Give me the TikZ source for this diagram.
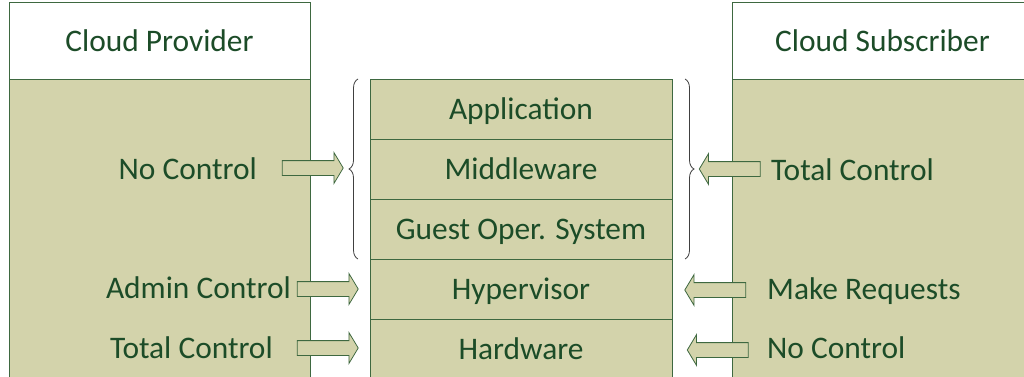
\documentclass[tikz,border=0pt]{standalone}
\usepackage{fontspec}
\setmainfont{Carlito}
\usetikzlibrary{positioning,shapes.arrows,decorations.pathreplacing}

\definecolor{khaki}{RGB}{211,211,171}
\definecolor{leaf}{RGB}{28,76,40}
\definecolor{rim}{RGB}{62,104,64}

\tikzstyle{layer}=[rectangle,draw=rim,line width=1pt,fill=khaki,text=leaf,minimum width=302pt,minimum height=60pt,inner sep=0pt,outer sep=0pt,text height=20pt,text depth=0pt]
\tikzstyle{cabeza}=[rectangle,draw=rim,line width=1pt,fill=white,text=leaf,minimum width=301pt,minimum height=76pt,inner sep=0pt,outer sep=0pt,text height=20pt,text depth=0pt]
\tikzstyle{cuerpo}=[rectangle,draw=rim,line width=1pt,fill=khaki,minimum width=301pt,minimum height=320pt,inner sep=0pt,outer sep=0pt]
\tikzstyle{texto}=[text=leaf,inner sep=0pt]
\tikzstyle{flecha}=[single arrow,draw=rim,line width=0.8pt,fill=khaki,minimum height=61pt,inner xsep=0pt,inner ysep=7pt,single arrow head extend=8pt,single arrow tip angle=118]
\tikzstyle{llave}=[draw=black!75,line width=0.8pt,decorate,decoration={brace,amplitude=9pt}]

\begin{document}
\begin{tikzpicture}[x=1pt,y=1pt,node distance=60pt,font=\fontsize{31.4}{37}\selectfont]
  \clip (0,0) rectangle (1024,376);

  \begin{scope}
    % provider column
    \node [cabeza] (prov) at (159.5,335) {Cloud Provider};
    \node [cuerpo] (provb) [below=0pt of prov] {};

    % subscriber column
    \node [cabeza] (subs) at (882.5,335) {Cloud Subscriber};
    \node [cuerpo] (subsb) [below=0pt of subs] {};

    % layer stack
    \node [layer] (l1) at (521,267) {Application};
    \node [layer] (l2) [below of=l1] {Middleware};
    \node [layer] (l3) [below of=l2] {Guest Oper. System};
    \node [layer] (l4) [below of=l3] {Hypervisor};
    \node [layer] (l5) [below of=l4] {Hardware};

    \draw [llave] ([xshift=-12pt]l3.south west) -- ([xshift=-12pt]l1.north west);
    \draw [llave] ([xshift=13pt]l1.north east) -- ([xshift=13pt]l3.south east);

    % provider side
    \node [texto,anchor=base east] (p1) at (257,197) {No Control};
    \node [texto,anchor=base east] (p2) at (291,78) {Admin Control};
    \node [texto,anchor=base east] (p3) at (273,18) {Total Control};
    \node [flecha] (a1) at (310.5,208) {};
    \node [flecha] (a2) at (325.5,87) {};
    \node [flecha] (a3) at (325.5,28) {};

    % subscriber side
    \node [texto,anchor=base west] (s1) at (771,196) {Total Control};
    \node [texto,anchor=base west] (s2) at (767,77) {Make Requests};
    \node [texto,anchor=base west] (s3) at (767,18) {No Control};
    \node [flecha,shape border rotate=180] (b1) at (732,207) {};
    \node [flecha,shape border rotate=180] (b2) at (717.5,86) {};
    \node [flecha,shape border rotate=180] (b3) at (720,26) {};
  \end{scope}

\end{tikzpicture}
\end{document}
